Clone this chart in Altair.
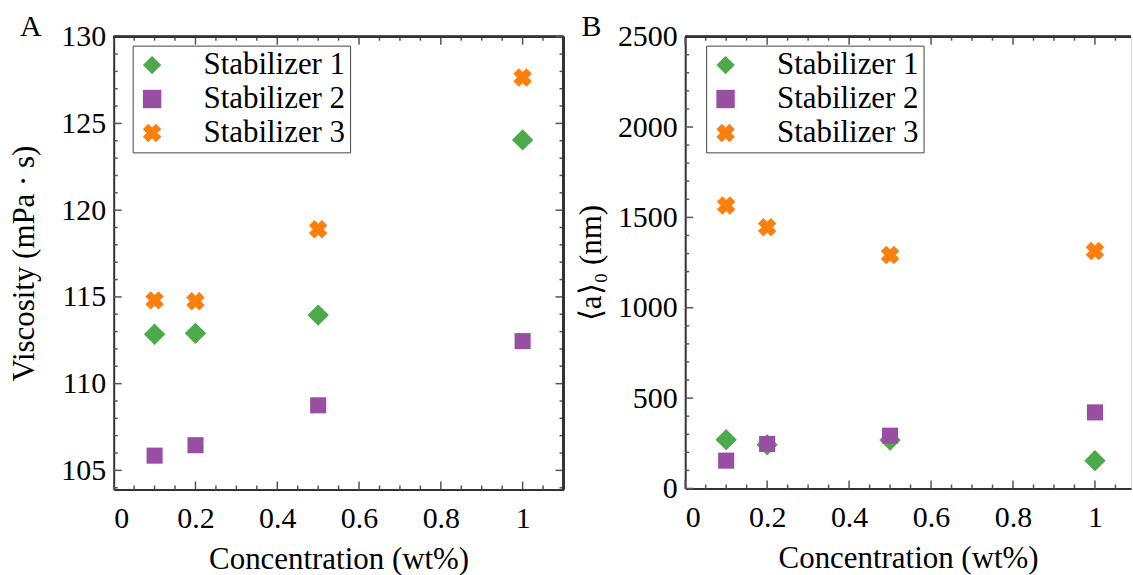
import altair as alt
import pandas as pd

# ---------------- data ----------------
series = ["Stabilizer 1", "Stabilizer 2", "Stabilizer 3"]
conc = [0.1, 0.2, 0.5, 1.0]

visc_s1 = [112.85, 112.9, 113.95, 124.05]
visc_s2 = [105.85, 106.45, 108.75, 112.45]
visc_s3 = [114.8, 114.75, 118.9, 127.65]

size_s1 = [270, 242, 268, 154]
size_s2 = [154, 246, 292, 421]
size_s3 = [1566, 1446, 1292, 1314]

x_major = [0, 0.2, 0.4, 0.6, 0.8, 1.0]
x_minor = [0.05, 0.1, 0.15, 0.25, 0.3, 0.35, 0.45, 0.5, 0.55, 0.65, 0.7, 0.75,
           0.85, 0.9, 0.95, 1.05]
visc_major = [105, 110, 115, 120, 125, 130]
visc_minor = [104, 106, 107, 108, 109, 111, 112, 113, 114, 116, 117, 118, 119,
              121, 122, 123, 124, 126, 127, 128, 129]
size_major = [0, 500, 1000, 1500, 2000, 2500]
size_minor = [100, 200, 300, 400, 600, 700, 800, 900, 1100, 1200, 1300, 1400,
              1600, 1700, 1800, 1900, 2100, 2200, 2300, 2400]
panel_letters = ["A", "B"]

colors = ["#4caa4a", "#984ea3", "#ff7f0e"]
X_PATH = ("M1.004,-0.41L0.594,0L1.004,0.41L0.41,1.004L0,0.594L-0.41,1.004"
          "L-1.004,0.41L-0.594,0L-1.004,-0.41L-0.41,-1.004L0,-0.594L0.41,-1.004Z")
shapes = ["diamond", "square", X_PATH]

FONT = "Liberation Serif"
FRAME = "#333333"
TICK = "#555555"
MAJ, MIN = 8, 4


def long_df(v1, v2, v3):
    rows = []
    for name, vals in zip(series, [v1, v2, v3]):
        for c, v in zip(conc, vals):
            rows.append({"conc": c, "val": v, "series": name})
    return pd.DataFrame(rows)


marker_size = (
    alt.when(alt.datum.series == series[2]).then(alt.value(340))
    .when(alt.datum.series == series[1]).then(alt.value(260))
    .otherwise(alt.value(460))
)


def panel(df, xdom, ydom, ymaj, ymin, w, h, ytitle, ytitlepad,
          letter, lpos, lx, ly, right_frame=True):
    xs = alt.Scale(domain=xdom, nice=False, zero=False)
    ys = alt.Scale(domain=ydom, nice=False, zero=False)
    leg = alt.Legend(orient="none", legendX=lx, legendY=ly, title=None,
                     padding=4, strokeColor="#444444", fillColor="white",
                     labelFont=FONT, labelFontSize=31, labelColor="black",
                     labelOffset=36, rowPadding=2, symbolStrokeWidth=0,
                     symbolOpacity=1, symbolSize=340, symbolOffset=0)
    main = alt.Chart(df).mark_point(filled=True, opacity=1).encode(
        x=alt.X("conc:Q", scale=xs, axis=alt.Axis(
            orient="bottom", values=x_major, format="~g", labelFont=FONT,
            labelFontSize=30, labelColor="black", labelPadding=14, tickSize=0,
            ticks=False, grid=False, domain=True, domainColor=FRAME,
            domainWidth=2, title="Concentration (wt%)", titleFont=FONT,
            titleFontSize=31, titleFontWeight="normal", titleColor="black",
            titlePadding=11)),
        y=alt.Y("val:Q", scale=ys, axis=alt.Axis(
            orient="left", values=ymaj, format="d", labelFont=FONT,
            labelFontSize=30, labelColor="black", labelPadding=8, tickSize=0,
            ticks=False, grid=False, domain=True, domainColor=FRAME,
            domainWidth=2, title=ytitle, titleFont=FONT, titleFontSize=31,
            titleFontWeight="normal", titleColor="black",
            titlePadding=ytitlepad)),
        color=alt.Color("series:N", scale=alt.Scale(domain=series, range=colors), legend=leg),
        shape=alt.Shape("series:N", scale=alt.Scale(domain=series, range=shapes), legend=leg),
        size=marker_size,
    )

    xmaj_df = pd.DataFrame({"v": x_major})
    xmin_df = pd.DataFrame({"v": x_minor})
    ymaj_df = pd.DataFrame({"v": ymaj})
    ymin_df = pd.DataFrame({"v": ymin})

    def xticks(d, y0, y1):
        return alt.Chart(d).mark_rule(color=TICK, strokeWidth=1.5).encode(
            x=alt.X("v:Q", scale=xs, axis=None),
            y=alt.value(y0), y2=alt.value(y1))

    def yticks(d, x0, x1):
        return alt.Chart(d).mark_rule(color=TICK, strokeWidth=1.5).encode(
            y=alt.Y("v:Q", scale=ys, axis=None),
            x=alt.value(x0), x2=alt.value(x1))

    layers = [
        xticks(xmaj_df, h, h - MAJ), xticks(xmin_df, h, h - MIN),
        xticks(xmaj_df, 0, MAJ), xticks(xmin_df, 0, MIN),
        yticks(ymaj_df, 0, MAJ), yticks(ymin_df, 0, MIN),
        # top frame line
        alt.Chart(xmaj_df).mark_rule(color=FRAME, strokeWidth=2).encode(
            x=alt.value(0), x2=alt.value(w), y=alt.value(0)),
        # panel letter
        alt.Chart(pd.DataFrame({"t": [letter]})).mark_text(
            font=FONT, fontSize=30, color="black", align="left",
            baseline="alphabetic").encode(
            text="t:N", x=alt.value(lpos[0]), y=alt.value(lpos[1])),
    ]
    if right_frame:
        layers += [
            yticks(ymaj_df, w, w - MAJ), yticks(ymin_df, w, w - MIN),
            alt.Chart(xmaj_df).mark_rule(color=FRAME, strokeWidth=2).encode(
                x=alt.value(w), y=alt.value(0), y2=alt.value(h)),
        ]
    return alt.layer(main, *layers).resolve_axis(
        x="independent", y="independent"
    ).properties(width=w, height=h)


dfA = long_df(visc_s1, visc_s2, visc_s3)
dfB = long_df(size_s1, size_s2, size_s3)

A = panel(dfA, [0, 1.1], [103.9, 130], visc_major, visc_minor, 451, 454,
          "Viscosity (mPa \u00b7 s)", 20, panel_letters[0], (-94, -1),
          19, 9, True)
B = panel(dfB, [0, 1.088], [0, 2500], size_major, size_minor, 447, 453,
          "\u27e8a\u27e9\u2080 (nm)", 10, panel_letters[1], (-104, -1),
          21, 9, False)

chart = alt.hconcat(A, B, spacing=9).resolve_scale(
    color="independent", shape="independent",
    x="independent", y="independent"
).resolve_legend(
    color="independent", shape="independent"
).properties(
    padding={"left": 8, "top": 10, "right": 0, "bottom": 0}
).configure_view(stroke=None).configure(background="white")

chart.save("out.html", embed_options={"renderer": "svg", "actions": False})
